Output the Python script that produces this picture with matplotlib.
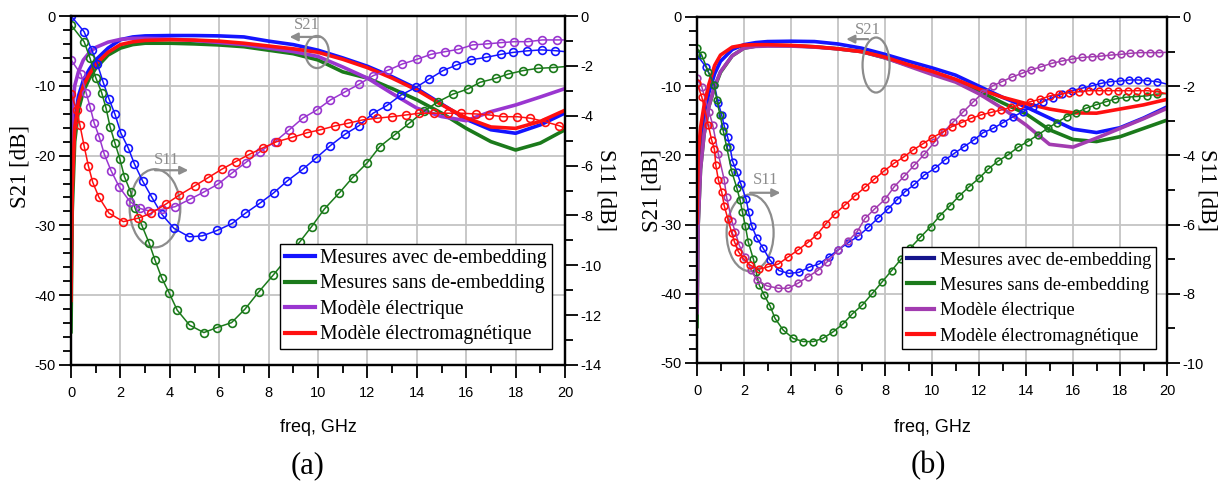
import matplotlib
matplotlib.use("Agg")
import matplotlib.pyplot as plt
from matplotlib.lines import Line2D
from matplotlib.patches import Ellipse
from matplotlib.ticker import MultipleLocator

plt.rcParams['axes.unicode_minus'] = False
plt.rcParams['font.family'] = ['Liberation Sans', 'DejaVu Sans']
SERIF = ['Liberation Serif', 'DejaVu Serif']

# ---------------------------------------------------------------- data (a)
freq_s21 = [0, 0.05, 0.15, 0.3, 0.5, 0.75, 1, 1.5, 2, 2.5, 3, 4, 5, 6, 7, 8, 9,
            10, 11, 12, 13, 14, 15, 16, 17, 18, 19, 20]

a_s21_avec = [-38, -24, -15, -11.5, -9.2, -7.6, -6.3, -4.6, -3.4, -3.0, -2.85, -2.8,
              -2.8, -2.85, -3.0, -3.6, -4.1, -4.9, -6.0, -7.2, -8.7, -10.4, -12.6,
              -14.8, -16.3, -16.8, -15.6, -13.9]
a_s21_sans = [-45.5, -28, -18, -13.5, -10.8, -8.9, -7.5, -5.6, -4.6, -4.1, -3.9, -3.9,
              -4.0, -4.15, -4.4, -4.9, -5.4, -6.3, -8.0, -8.9, -10.4, -12.0, -13.9,
              -16.1, -18.0, -19.2, -18.2, -16.3]
a_s21_elec = [-22, -14, -10, -8, -6.3, -5.2, -4.5, -3.75, -3.35, -3.2, -3.2, -3.3,
              -3.5, -3.8, -4.1, -4.6, -5.1, -5.8, -7.3, -8.9, -11.1, -13.2, -14.4,
              -15.0, -13.7, -12.75, -11.6, -10.4]
a_s21_em = [-41, -25, -16, -12.3, -10, -8.3, -6.9, -5.2, -4.1, -3.7, -3.5, -3.4,
            -3.45, -3.6, -3.9, -4.3, -4.7, -5.2, -6.2, -7.4, -8.9, -10.6, -12.7,
            -14.6, -15.9, -16.1, -15.1, -13.5]

a_f11_avec = [0, 0.53, 0.84, 1.07, 1.30, 1.54, 1.78, 2.02, 2.32, 2.57, 2.90, 3.27,
              3.67, 4.17, 4.79, 5.32, 5.92, 6.53, 7.05, 7.66, 8.20, 8.75, 9.38, 9.92,
              10.5, 11.1, 11.66, 12.23, 12.78, 13.36, 13.97, 14.5, 15.06, 15.6, 16.2,
              16.8, 17.4, 17.9, 18.45, 19.05, 19.6, 20]
a_s11_avec = [0, -0.63, -1.36, -1.94, -2.65, -3.33, -3.94, -4.7, -5.3, -5.94, -6.62,
              -7.27, -7.95, -8.52, -8.86, -8.82, -8.6, -8.32, -7.92, -7.5, -7.1, -6.62,
              -6.15, -5.7, -5.2, -4.74, -4.4, -3.9, -3.6, -3.17, -2.86, -2.53, -2.19,
              -1.97, -1.76, -1.66, -1.54, -1.46, -1.4, -1.36, -1.39, -1.43]

a_f11_sans = [0, 0.53, 0.77, 1.0, 1.24, 1.42, 1.58, 1.78, 1.98, 2.16, 2.42, 2.59,
              2.86, 3.16, 3.4, 3.67, 3.97, 4.3, 4.8, 5.38, 5.9, 6.5, 7.05, 7.6, 8.18,
              8.72, 9.27, 9.74, 10.26, 10.86, 11.4, 12.0, 12.5, 13.1, 13.7, 14.3,
              14.86, 15.45, 16.06, 16.56, 17.2, 17.7, 18.3, 18.9, 19.5, 20]
a_s11_sans = [-0.36, -1.03, -1.69, -2.47, -3.07, -3.7, -4.44, -5.1, -5.74, -6.44,
              -7.07, -7.7, -8.38, -9.1, -9.79, -10.5, -11.1, -11.8, -12.4, -12.7,
              -12.5, -12.3, -11.75, -11.07, -10.4, -9.75, -9.05, -8.45, -7.74, -7.1,
              -6.48, -5.88, -5.24, -4.77, -4.3, -3.81, -3.44, -3.14, -2.93, -2.66,
              -2.5, -2.33, -2.19, -2.1, -2.07, -2.03]

a_f11_elec = [0, 0.4, 0.61, 0.77, 0.94, 1.15, 1.35, 1.62, 1.96, 2.39, 2.79, 3.13,
              3.67, 4.21, 4.82, 5.4, 5.96, 6.53, 7.07, 7.65, 8.26, 8.83, 9.38, 9.95,
              10.5, 11.1, 11.66, 12.24, 12.85, 13.4, 14.0, 14.57, 15.14, 15.68, 16.26,
              16.83, 17.4, 17.95, 18.5, 19.08, 19.66, 20]
a_s11_elec = [-1.76, -2.33, -3.07, -3.64, -4.3, -4.87, -5.55, -6.2, -6.87, -7.45,
              -7.72, -7.81, -7.76, -7.65, -7.35, -7.05, -6.74, -6.29, -5.88, -5.44,
              -5.04, -4.57, -4.1, -3.77, -3.37, -3.04, -2.74, -2.39, -2.17, -1.93,
              -1.74, -1.54, -1.43, -1.34, -1.16, -1.12, -1.07, -1.03, -1.03, -0.96,
              -0.96, -0.96]

a_f11_em = [0, 0.23, 0.36, 0.53, 0.7, 0.88, 1.13, 1.54, 2.12, 2.72, 3.23, 3.85, 4.39,
            5.0, 5.56, 6.1, 6.67, 7.22, 7.79, 8.33, 8.96, 9.57, 10.08, 10.69, 11.23,
            11.8, 12.4, 12.98, 13.56, 14.1, 14.7, 15.28, 15.8, 16.4, 16.94, 17.48,
            18.07, 18.6, 19.19, 19.76, 20]
a_s11_em = [-3.13, -3.77, -4.37, -5.21, -6.0, -6.67, -7.27, -7.91, -8.25, -8.11,
            -7.92, -7.54, -7.18, -6.82, -6.48, -6.15, -5.84, -5.55, -5.28, -5.04,
            -4.87, -4.68, -4.57, -4.41, -4.3, -4.17, -4.1, -4.04, -3.97, -3.9, -3.9,
            -3.9, -3.9, -3.93, -3.97, -4.04, -4.04, -4.1, -4.24, -4.4, -4.5]

# ---------------------------------------------------------------- data (b)
b_s21_avec = [-36, -26, -19, -14.5, -11, -8.2, -6.4, -4.7, -4.0, -3.7, -3.55, -3.5,
              -3.55, -3.9, -4.5, -5.4, -6.4, -7.35, -8.4, -10.0, -11.6, -13.0, -14.6,
              -16.2, -16.7, -16.0, -14.6, -13.0]
b_s21_sans = [-45, -30, -22, -17, -13, -10.2, -8.0, -5.6, -4.5, -4.2, -4.1, -4.15,
              -4.3, -4.6, -5.0, -5.9, -7.0, -8.0, -9.2, -10.7, -12.4, -14.0, -16.3,
              -17.7, -18.0, -17.3, -16.1, -14.9]
b_s21_elec = [-43, -30, -22, -17, -13, -10, -7.9, -5.6, -4.5, -4.25, -4.2, -4.2,
              -4.35, -4.6, -5.0, -5.9, -7.1, -8.3, -9.4, -11.1, -13.2, -15.6, -18.4,
              -18.8, -17.5, -16.1, -14.7, -13.2]
b_s21_em = [-30, -20, -16, -12.8, -9.8, -7.0, -5.5, -4.35, -4.05, -4.0, -4.0, -4.1,
            -4.3, -4.6, -5.0, -5.8, -6.9, -7.85, -9.0, -10.4, -11.6, -12.5, -13.3,
            -13.85, -13.9, -13.3, -12.7, -11.9]

b_f11_avec = [0, 0.38, 0.74, 0.91, 1.05, 1.16, 1.3, 1.4, 1.52, 1.69, 1.87, 2.09, 2.2,
              2.33, 2.54, 2.82, 3.1, 3.49, 3.91, 4.34, 4.77, 5.19, 5.62, 6.01, 6.44,
              6.87, 7.29, 7.69, 8.11, 8.5, 8.85, 9.25, 9.67, 10.13, 10.55, 10.95,
              11.36, 11.79, 12.18, 12.6, 13.03, 13.46, 13.86, 14.28, 14.71, 15.14,
              15.52, 15.94, 16.37, 16.8, 17.18, 17.57, 18.0, 18.4, 18.78, 19.16,
              19.59, 20]
b_s11_avec = [-1.1, -1.44, -1.97, -2.5, -2.83, -3.15, -3.46, -3.75, -4.18, -4.47,
              -4.83, -5.27, -5.65, -6.04, -6.38, -6.69, -7.02, -7.33, -7.41, -7.38,
              -7.23, -7.14, -6.93, -6.73, -6.52, -6.33, -6.08, -5.82, -5.56, -5.29,
              -5.05, -4.84, -4.57, -4.37, -4.13, -3.94, -3.75, -3.55, -3.34, -3.22,
              -3.05, -2.88, -2.74, -2.59, -2.45, -2.33, -2.23, -2.13, -2.06, -1.99,
              -1.92, -1.87, -1.85, -1.82, -1.82, -1.84, -1.87, -1.94]

b_f11_sans = [0, 0.2, 0.48, 0.74, 0.84, 0.98, 1.12, 1.26, 1.48, 1.69, 1.83, 1.93,
              2.06, 2.18, 2.4, 2.52, 2.65, 2.85, 3.11, 3.32, 3.67, 4.1, 4.52, 4.95,
              5.35, 5.77, 6.2, 6.61, 7.04, 7.46, 7.86, 8.28, 8.68, 9.06, 9.5, 9.94,
              10.34, 10.77, 11.16, 11.59, 12.0, 12.4, 12.82, 13.22, 13.65, 14.07,
              14.5, 14.92, 15.31, 15.73, 16.13, 16.54, 16.97, 17.39, 17.79, 18.24,
              18.67, 19.14, 19.56, 20]
b_s11_sans = [-0.9, -1.1, -1.58, -1.97, -2.4, -2.83, -3.3, -3.75, -4.47, -4.93,
              -5.29, -5.63, -6.05, -6.5, -7.0, -7.38, -7.75, -8.03, -8.35, -8.71,
              -9.05, -9.29, -9.38, -9.38, -9.29, -9.11, -8.88, -8.58, -8.32, -7.99,
              -7.67, -7.33, -7.0, -6.69, -6.37, -6.06, -5.74, -5.45, -5.17, -4.9,
              -4.66, -4.39, -4.16, -3.99, -3.77, -3.6, -3.41, -3.22, -3.05, -2.88,
              -2.77, -2.64, -2.54, -2.45, -2.37, -2.32, -2.3, -2.28, -2.23, -2.21]

b_f11_elec = [0, 0.2, 0.52, 0.67, 0.91, 1.16, 1.26, 1.48, 1.62, 1.8, 2.04, 2.3, 2.54,
              2.97, 3.46, 3.89, 4.31, 4.74, 5.13, 5.55, 6.01, 6.44, 6.82, 7.15, 7.54,
              8.0, 8.4, 8.82, 9.25, 9.67, 10.1, 10.51, 10.91, 11.33, 11.76, 12.16,
              12.58, 12.97, 13.39, 13.82, 14.21, 14.64, 15.09, 15.55, 15.94, 16.37,
              16.8, 17.19, 17.62, 18.03, 18.43, 18.85, 19.28, 19.67, 20]
b_s11_elec = [-1.77, -2.01, -2.76, -3.12, -3.97, -4.71, -5.21, -5.89, -6.2, -6.6,
              -6.93, -7.3, -7.6, -7.77, -7.84, -7.84, -7.69, -7.5, -7.33, -7.07, -6.73,
              -6.47, -6.2, -5.82, -5.56, -5.27, -4.9, -4.6, -4.28, -3.97, -3.62, -3.31,
              -3.03, -2.74, -2.45, -2.19, -1.99, -1.87, -1.74, -1.63, -1.53, -1.44,
              -1.34, -1.27, -1.22, -1.17, -1.15, -1.13, -1.1, -1.08, -1.05, -1.03,
              -1.03, -1.03, -1.02]

b_f11_em = [0, 0.2, 0.48, 0.62, 0.74, 0.8, 0.91, 1.05, 1.16, 1.32, 1.48, 1.59, 1.76,
            1.97, 2.26, 2.64, 3.03, 3.46, 3.89, 4.31, 4.71, 5.09, 5.48, 5.87, 6.3,
            6.72, 7.15, 7.54, 7.96, 8.38, 8.81, 9.2, 9.6, 10.01, 10.44, 10.84, 11.26,
            11.66, 12.09, 12.5, 12.92, 13.35, 13.74, 14.17, 14.6, 15.02, 15.42, 15.84,
            16.27, 16.69, 17.12, 17.5, 17.93, 18.35, 18.74, 19.16, 19.59, 20]
b_s11_em = [-1.92, -2.3, -3.12, -3.55, -3.82, -4.28, -4.71, -5.05, -5.46, -5.85,
            -6.25, -6.49, -6.78, -6.98, -7.17, -7.29, -7.22, -7.14, -6.93, -6.73,
            -6.52, -6.3, -5.98, -5.69, -5.43, -5.17, -4.92, -4.69, -4.45, -4.23,
            -4.04, -3.84, -3.67, -3.49, -3.33, -3.17, -3.05, -2.93, -2.83, -2.76,
            -2.69, -2.61, -2.54, -2.45, -2.38, -2.28, -2.23, -2.19, -2.16, -2.13,
            -2.13, -2.13, -2.13, -2.13, -2.13, -2.13, -2.16, -2.22]

legend_labels = ["Mesures avec de-embedding", "Mesures sans de-embedding",
                 "Modèle électrique", "Modèle électromagnétique"]

BLUE, GREEN, RED = '#1414ff', '#1b7a1b', '#ff1010'
PURPLE_A, PURPLE_B = '#9a36d0', '#a23cb0'
GREY = '#8c8c8c'


def style_axes(ax, ax2, s11_min):
    ax.set_xlim(0, 20)
    ax.set_ylim(-50, 0)
    ax2.set_ylim(s11_min, 0)
    ax.xaxis.set_major_locator(MultipleLocator(2))
    ax.xaxis.set_minor_locator(MultipleLocator(1))
    ax.yaxis.set_major_locator(MultipleLocator(10))
    ax.yaxis.set_minor_locator(MultipleLocator(2))
    ax2.yaxis.set_major_locator(MultipleLocator(2))
    ax2.yaxis.set_minor_locator(MultipleLocator(1))
    ax.grid(True, which='major', color='#c4c4c4', lw=1.3)
    ax.set_axisbelow(True)
    for a in (ax, ax2):
        for sp in a.spines.values():
            sp.set_linewidth(1.6)
        a.tick_params(which='major', direction='out', length=9, width=1.3,
                      labelsize=10.5, pad=2)
        a.tick_params(which='minor', direction='out', length=5.5, width=1.3)
    ax.tick_params(axis='x', pad=6)


def draw_panel(rect, s21, s11, purple, s11_min, legend_xy, legend_colors,
               tag, tag_x, ylabel_y, notes):
    ax = fig.add_axes(rect)
    ax2 = ax.twinx()
    colors = [BLUE, GREEN, purple, RED]
    for vals, c in zip(s21, colors):
        ax.plot(freq_s21, vals, color=c, lw=2.6, solid_capstyle='butt', zorder=3)
    for (f, v), c in zip(s11, colors):
        ax2.plot(f, v, color=c, lw=1.1, marker='o', ms=notes['ms'],
                 mfc='none', mec=c, mew=1.2, markevery=list(range(len(f) - 1)))
    style_axes(ax, ax2, s11_min)

    ax.set_ylabel("S21 [dB]", family=SERIF, fontsize=16.5, va='center')
    ax.yaxis.set_label_coords(notes['ylab_x'], ylabel_y)
    ax2.set_ylabel("S11 [dB]", family=SERIF, fontsize=16.5, rotation=-90,
                   va='center')
    ax2.yaxis.set_label_coords(notes['y2lab_x'], 0.5)

    # S21 / S11 call-outs
    for key in ('s21', 's11'):
        (tx, ty), (ax0, ax1, ay), (ex, ey, ew, eh) = notes[key]
        ax.text(tx, ty, key.upper(), family=SERIF, fontsize=12, color=GREY,
                ha='center', va='center', zorder=5)
        ax.annotate('', xy=(ax1, ay), xytext=(ax0, ay),
                    arrowprops=dict(arrowstyle='-|>', color=GREY, lw=1.6,
                                    mutation_scale=12, shrinkA=0, shrinkB=0),
                    zorder=5)
        ax.add_patch(Ellipse((ex, ey), ew, eh, fill=False, ec=GREY, lw=1.6,
                             zorder=5))

    handles = [Line2D([], [], color=c, lw=3) for c in legend_colors]
    leg = ax2.legend(handles, legend_labels, loc='upper left',
                     bbox_to_anchor=legend_xy, bbox_transform=fig.transFigure,
                     borderaxespad=0, prop=dict(family=SERIF, size=notes['leg_fs']),
                     frameon=True, fancybox=False, framealpha=1,
                     edgecolor='black', handlelength=1.5, handletextpad=0.3,
                     labelspacing=notes['leg_sp'], borderpad=0.25)
    leg.get_frame().set_linewidth(1.0)

    cx = rect[0] + rect[2] / 2
    fig.text(cx, 1 - 428 / H, "freq, GHz", ha='center', va='center', fontsize=13)
    fig.text(tag_x, 1 - 466 / H, tag, ha='center', va='center', family=SERIF,
             fontsize=22)
    return ax, ax2


W, H = 1223, 484
fig = plt.figure(figsize=(W / 100, H / 100), dpi=100)

draw_panel([71 / W, 1 - 365 / H, 494 / W, 349 / H],
           [a_s21_avec, a_s21_sans, a_s21_elec, a_s21_em],
           [(a_f11_avec, a_s11_avec), (a_f11_sans, a_s11_sans),
            (a_f11_elec, a_s11_elec), (a_f11_em, a_s11_em)],
           PURPLE_A, -14, (280 / W, 1 - 244 / H),
           [BLUE, GREEN, PURPLE_A, RED], "(a)", 308 / W, 0.57,
           dict(ms=5.6, ylab_x=-0.103, y2lab_x=1.083, leg_fs=14.2, leg_sp=0.33,
                s21=((9.55, -1.3), (10.1, 8.85, -3.0), (9.96, -5.16, 0.95, 4.6)),
                s11=((3.85, -20.6), (3.4, 4.75, -22.1), (3.4, -27.55, 2.05, 11.2))))

draw_panel([697 / W, 1 - 363 / H, 470 / W, 346 / H],
           [b_s21_avec, b_s21_sans, b_s21_elec, b_s21_em],
           [(b_f11_avec, b_s11_avec), (b_f11_sans, b_s11_sans),
            (b_f11_elec, b_s11_elec), (b_f11_em, b_s11_em)],
           PURPLE_B, -10, (902 / W, 1 - 247 / H),
           ['#14148c', GREEN, PURPLE_B, RED], "(b)", 928 / W, 0.5,
           dict(ms=4.8, ylab_x=-0.096, y2lab_x=1.085, leg_fs=13.3, leg_sp=0.45,
                s21=((7.28, -1.9), (7.28, 6.35, -3.2), (7.62, -6.94, 1.15, 7.95)),
                s11=((2.9, -23.6), (2.26, 3.55, -25.4), (2.26, -31.2, 2.0, 11.1))))

fig.savefig("out.png", dpi=100)
